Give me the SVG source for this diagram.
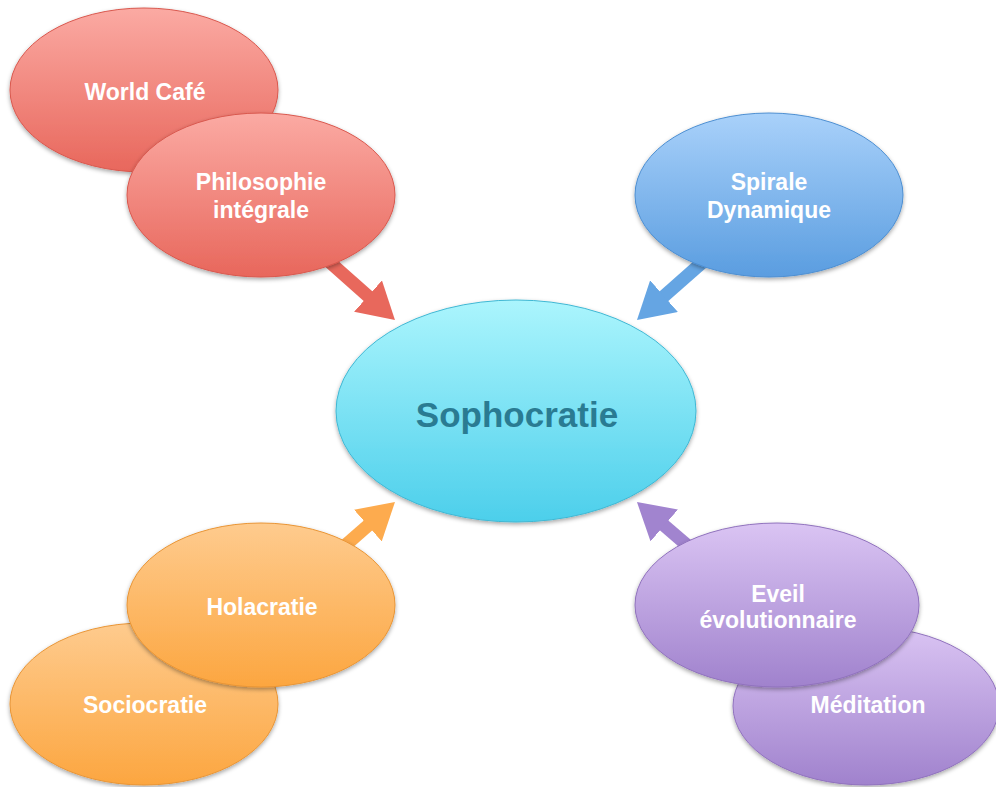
<svg xmlns="http://www.w3.org/2000/svg" width="996" height="787" viewBox="0 0 996 787">
<defs>
<style>
.lbl{font-family:"Liberation Sans",Arial,sans-serif;font-weight:bold;font-size:23px;fill:#ffffff;text-anchor:middle}
.main{font-family:"Liberation Sans",Arial,sans-serif;font-weight:bold;font-size:35px;fill:#2a7b92;text-anchor:middle}
.node ellipse{filter:url(#sh);stroke-width:1}
.conn line{stroke-width:13}
</style>
<filter id="sh" x="-10%" y="-10%" width="120%" height="125%">
<feDropShadow dx="0" dy="2" stdDeviation="2" flood-color="#000" flood-opacity="0.35"/>
</filter>
<linearGradient id="gRed" x1="0" y1="0" x2="0" y2="1"><stop offset="0" stop-color="#fbaaa3"/><stop offset="1" stop-color="#e8675c"/></linearGradient>
<linearGradient id="gBlue" x1="0" y1="0" x2="0" y2="1"><stop offset="0" stop-color="#a9d1fa"/><stop offset="1" stop-color="#5a9de0"/></linearGradient>
<linearGradient id="gCyan" x1="0" y1="0" x2="0" y2="1"><stop offset="0" stop-color="#abf5fd"/><stop offset="1" stop-color="#4ccfeb"/></linearGradient>
<linearGradient id="gOrange" x1="0" y1="0" x2="0" y2="1"><stop offset="0" stop-color="#fecb8e"/><stop offset="1" stop-color="#fca640"/></linearGradient>
<linearGradient id="gPurple" x1="0" y1="0" x2="0" y2="1"><stop offset="0" stop-color="#dac4f3"/><stop offset="1" stop-color="#a082cd"/></linearGradient>
<marker id="mRed" markerUnits="userSpaceOnUse" markerWidth="36" markerHeight="42" refX="6" refY="21" orient="auto"><path d="M0,0 L36,21 L0,42 z" fill="#e8685c"/></marker>
<marker id="mBlue" markerUnits="userSpaceOnUse" markerWidth="36" markerHeight="42" refX="6" refY="21" orient="auto"><path d="M0,0 L36,21 L0,42 z" fill="#65a5e3"/></marker>
<marker id="mOrange" markerUnits="userSpaceOnUse" markerWidth="36" markerHeight="42" refX="6" refY="21" orient="auto"><path d="M0,0 L36,21 L0,42 z" fill="#fdab4e"/></marker>
<marker id="mPurple" markerUnits="userSpaceOnUse" markerWidth="36" markerHeight="42" refX="6" refY="21" orient="auto"><path d="M0,0 L36,21 L0,42 z" fill="#a184cf"/></marker>
</defs>
<rect width="996" height="787" fill="#ffffff"/>
<g id="connectors" class="conn">
<line x1="325" y1="258" x2="372.5" y2="300.1" stroke="#e8685c" marker-end="url(#mRed)"/>
<line x1="705" y1="260" x2="659.5" y2="300.1" stroke="#65a5e3" marker-end="url(#mBlue)"/>
<line x1="340" y1="550" x2="372.4" y2="521.7" stroke="#fdab4e" marker-end="url(#mOrange)"/>
<line x1="695" y1="552" x2="659.7" y2="521.6" stroke="#a184cf" marker-end="url(#mPurple)"/>
</g>
<g id="world-cafe" class="node">
<ellipse cx="144" cy="90" rx="134" ry="82" fill="url(#gRed)" stroke="#d9584e"/>
<text class="lbl" x="145" y="100">World Café</text>
</g>
<g id="philosophie-integrale" class="node">
<ellipse cx="261" cy="195" rx="134" ry="82" fill="url(#gRed)" stroke="#d9584e"/>
<text class="lbl" x="261" y="190">Philosophie</text>
<text class="lbl" x="261" y="218">intégrale</text>
</g>
<g id="spirale-dynamique" class="node">
<ellipse cx="769" cy="195" rx="134" ry="82" fill="url(#gBlue)" stroke="#4d8fd2"/>
<text class="lbl" x="769" y="190">Spirale</text>
<text class="lbl" x="769" y="218">Dynamique</text>
</g>
<g id="sociocratie" class="node">
<ellipse cx="144" cy="704" rx="134" ry="81" fill="url(#gOrange)" stroke="#e99535"/>
<text class="lbl" x="145" y="713">Sociocratie</text>
</g>
<g id="holacratie" class="node">
<ellipse cx="261" cy="605" rx="134" ry="82" fill="url(#gOrange)" stroke="#e99535"/>
<text class="lbl" x="262" y="615">Holacratie</text>
</g>
<g id="meditation" class="node">
<ellipse cx="866" cy="706" rx="133" ry="79" fill="url(#gPurple)" stroke="#9072bd"/>
<text class="lbl" x="868" y="713">Méditation</text>
</g>
<g id="eveil-evolutionnaire" class="node">
<ellipse cx="777" cy="605" rx="142" ry="82" fill="url(#gPurple)" stroke="#9072bd"/>
<text class="lbl" x="778" y="602">Eveil</text>
<text class="lbl" x="778" y="628">évolutionnaire</text>
</g>
<g id="sophocratie" class="node">
<ellipse cx="516" cy="411" rx="180" ry="111" fill="url(#gCyan)" stroke="#3fb8d4"/>
<text class="main" x="517" y="427">Sophocratie</text>
</g>
</svg>
